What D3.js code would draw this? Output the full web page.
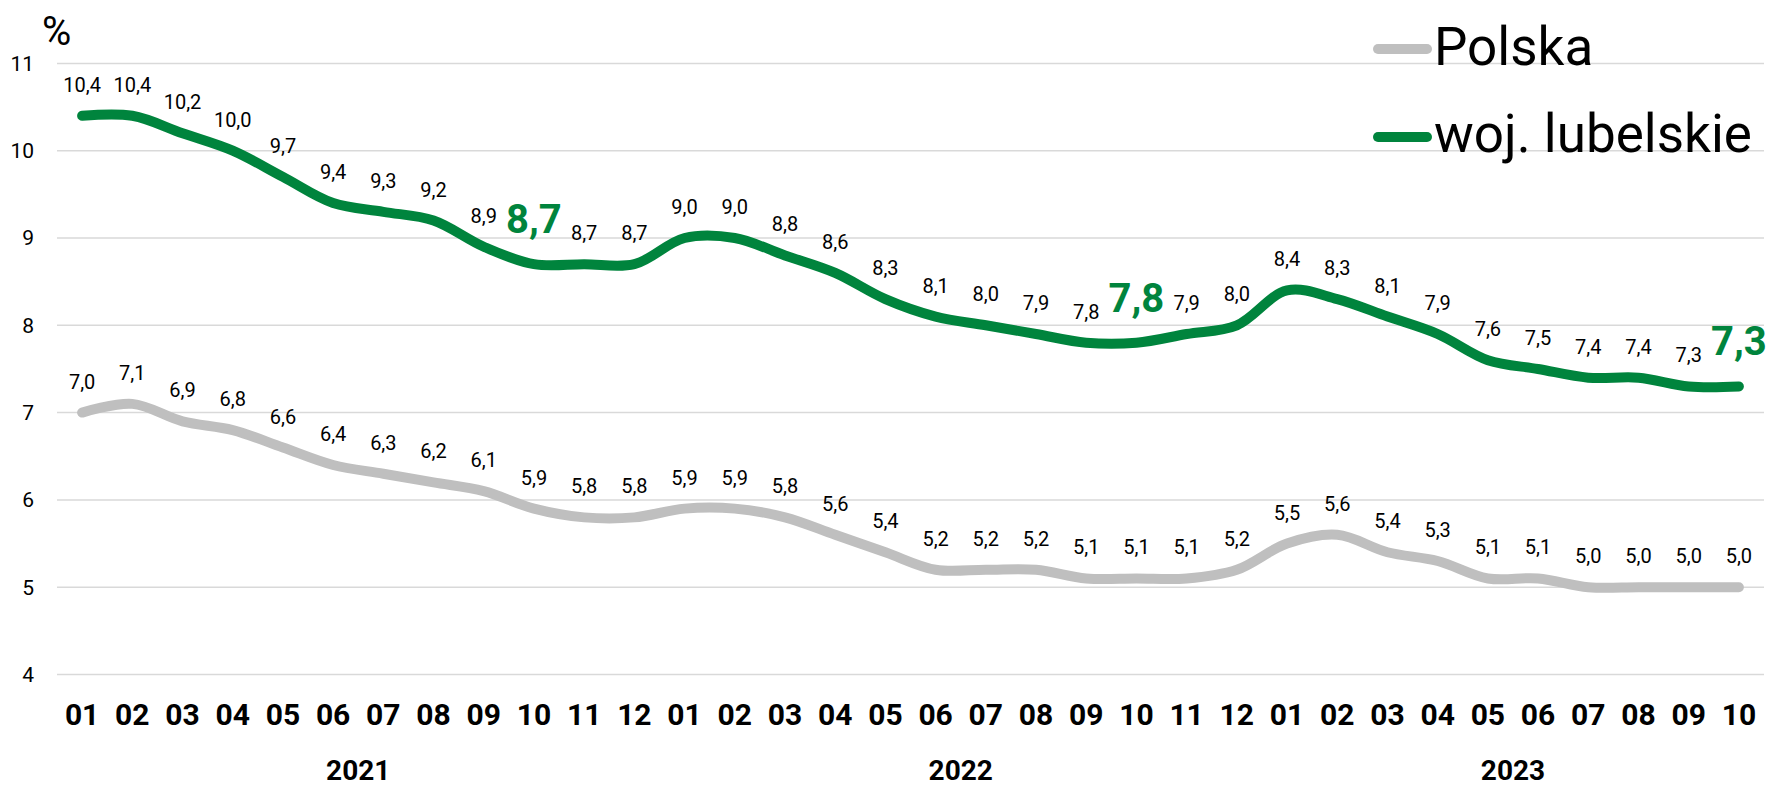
<!DOCTYPE html>
<html lang="pl">
<head>
<meta charset="UTF-8">
<title>Stopa bezrobocia</title>
<script src="https://d3js.org/d3.v7.min.js"></script>
<style>
  html, body { margin: 0; padding: 0; background: #fff; }
  svg { display: block; font-family: Roboto, "Noto Sans", sans-serif; }
</style>
</head>
<body>
<svg id="chart" width="1766" height="788"></svg>
<script>
// months 2021-01 .. 2023-10
const months = ["01","02","03","04","05","06","07","08","09","10","11","12",
                "01","02","03","04","05","06","07","08","09","10","11","12",
                "01","02","03","04","05","06","07","08","09","10"];
const years = ["2021", "2022", "2023"];
const monthsPerYear = [12, 12, 10];

const polska = [7.0, 7.1, 6.9, 6.8, 6.6, 6.4, 6.3, 6.2, 6.1, 5.9, 5.8, 5.8,
                5.9, 5.9, 5.8, 5.6, 5.4, 5.2, 5.2, 5.2, 5.1, 5.1, 5.1, 5.2,
                5.5, 5.6, 5.4, 5.3, 5.1, 5.1, 5.0, 5.0, 5.0, 5.0];
const lubelskie = [10.4, 10.4, 10.2, 10.0, 9.7, 9.4, 9.3, 9.2, 8.9, 8.7, 8.7, 8.7,
                   9.0, 9.0, 8.8, 8.6, 8.3, 8.1, 8.0, 7.9, 7.8, 7.8, 7.9, 8.0,
                   8.4, 8.3, 8.1, 7.9, 7.6, 7.5, 7.4, 7.4, 7.3, 7.3];
// October of each year gets the big label
const highlight = [9, 21, 33];
const yTicks = [4, 5, 6, 7, 8, 9, 10, 11];

const seriesNames = ["Polska", "woj. lubelskie"];
const GREEN = "#00843d", GREY = "#bfbfbf";

const svg = d3.select("#chart");

const x = d3.scaleBand().domain(d3.range(months.length)).range([57, 1764]);
const y = d3.scaleLinear().domain([4, 11]).range([674.5, 63.4]);
const cx = i => x(i) + x.bandwidth() / 2;
const fmt = v => d3.format(".1f")(v).replace(".", ",");

// grid
svg.append("g").selectAll("line")
  .data(yTicks)
  .join("line")
  .attr("x1", x.range()[0]).attr("x2", x.range()[1])
  .attr("y1", d => y(d)).attr("y2", d => y(d))
  .attr("stroke", "#d9d9d9").attr("stroke-width", 1.5);

// y axis labels
svg.append("g").selectAll("text")
  .data(yTicks)
  .join("text")
  .attr("x", 34).attr("y", d => y(d))
  .attr("dy", "0.35em")
  .attr("text-anchor", "end")
  .attr("font-size", 21)
  .text(d => d);

svg.append("text")
  .attr("x", 42).attr("y", 45)
  .attr("font-size", 40)
  .text("%");

// month + year labels
svg.append("g").selectAll("text")
  .data(months)
  .join("text")
  .attr("x", (d, i) => cx(i)).attr("y", 725)
  .attr("text-anchor", "middle")
  .attr("font-size", 30).attr("font-weight", 700)
  .text(d => d);

let start = 0;
years.forEach((yr, k) => {
  const end = start + monthsPerYear[k] - 1;
  svg.append("text")
    .attr("x", (cx(start) + cx(end)) / 2).attr("y", 780)
    .attr("text-anchor", "middle")
    .attr("font-size", 28).attr("font-weight", 700)
    .text(yr);
  start = end + 1;
});

// lines
const line = d3.line()
  .x((d, i) => cx(i))
  .y(d => y(d))
  .curve(d3.curveCatmullRom.alpha(0.5));

[[polska, GREY], [lubelskie, GREEN]].forEach(([vals, col]) => {
  svg.append("path")
    .datum(vals)
    .attr("d", line)
    .attr("fill", "none")
    .attr("stroke", col)
    .attr("stroke-width", 10)
    .attr("stroke-linecap", "round")
    .attr("stroke-linejoin", "round");
});

// data labels
svg.append("g").selectAll("text")
  .data(polska)
  .join("text")
  .attr("x", (d, i) => cx(i)).attr("y", d => y(d) - 24)
  .attr("text-anchor", "middle")
  .attr("font-size", 20)
  .text(d => fmt(d));

svg.append("g").selectAll("text")
  .data(lubelskie)
  .join("text")
  .attr("x", (d, i) => cx(i))
  .attr("y", (d, i) => highlight.includes(i) ? y(d) - 31 : y(d) - 24)
  .attr("text-anchor", "middle")
  .attr("font-size", (d, i) => highlight.includes(i) ? 40 : 20)
  .attr("font-weight", (d, i) => highlight.includes(i) ? 700 : 400)
  .attr("fill", (d, i) => highlight.includes(i) ? GREEN : "#000")
  .text(d => fmt(d));

// legend
const legend = svg.append("g");
[[seriesNames[0], GREY, 49, 65], [seriesNames[1], GREEN, 137, 152]].forEach(([name, col, ly, ty]) => {
  legend.append("line")
    .attr("x1", 1378).attr("x2", 1427)
    .attr("y1", ly).attr("y2", ly)
    .attr("stroke", col).attr("stroke-width", 10)
    .attr("stroke-linecap", "round");
  legend.append("text")
    .attr("x", 1434).attr("y", ty)
    .attr("font-size", 53)
    .text(name);
});
</script>
</body>
</html>
